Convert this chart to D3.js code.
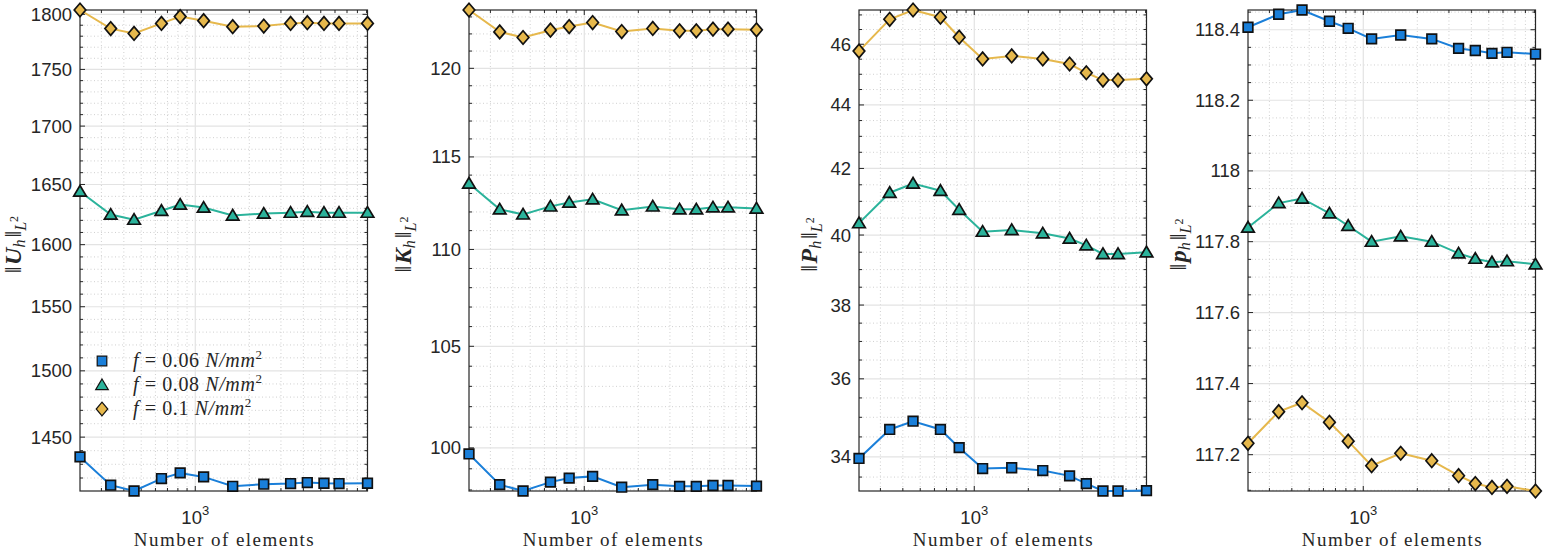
<!DOCTYPE html>
<html>
<head>
<meta charset="utf-8">
<title>Norms versus number of elements</title>
<script src="https://d3js.org/d3.v7.min.js"></script>
<style>
  body { margin: 0; background: #fff; }
  svg text { fill: #262626; }
  .tick-label { font-family: "Liberation Sans", Arial, sans-serif; font-size: 18.5px; }
  .serif { font-family: "Liberation Serif", "DejaVu Serif", serif; }
</style>
</head>
<body>
<svg id="chart" width="1544" height="550"></svg>
<script>
// number of elements of each mesh (same for all four panels)
var elements = [228, 338, 456, 648, 824, 1113, 1616, 2407, 3395, 4207, 5209, 6318, 9104];

// legend entries
var loads = ["0.06", "0.08", "0.1"];

// ||U_h||_L2
var U_f006 = [1435.4, 1414.8, 1410.6, 1419.6, 1423.7, 1420.8, 1414.0, 1415.5, 1416.0, 1416.7, 1416.2, 1416.0, 1416.2];
var U_f008 = [1644.1, 1624.8, 1620.6, 1628.0, 1633.1, 1630.6, 1624.0, 1625.6, 1626.4, 1627.2, 1626.4, 1626.4, 1626.4];
var U_f010 = [1804.0, 1786.9, 1782.5, 1791.7, 1797.9, 1794.2, 1788.7, 1789.2, 1791.7, 1792.3, 1791.7, 1791.7, 1791.7];

// ||K_h||_L2
var K_f006 = [99.71, 98.25, 97.95, 98.37, 98.56, 98.64, 98.13, 98.25, 98.17, 98.17, 98.21, 98.21, 98.18];
var K_f008 = [113.54, 112.14, 111.87, 112.30, 112.51, 112.68, 112.09, 112.30, 112.14, 112.14, 112.25, 112.25, 112.19];
var K_f010 = [123.41, 122.12, 121.79, 122.22, 122.43, 122.67, 122.14, 122.32, 122.18, 122.18, 122.28, 122.28, 122.24];

// ||P_h||_L2
var P_f006 = [33.96, 34.69, 34.90, 34.69, 34.23, 33.71, 33.73, 33.66, 33.53, 33.34, 33.16, 33.16, 33.17];
var P_f008 = [40.35, 41.26, 41.54, 41.32, 40.75, 40.10, 40.15, 40.05, 39.90, 39.70, 39.45, 39.45, 39.50];
var P_f010 = [45.77, 46.85, 47.17, 46.92, 46.24, 45.51, 45.61, 45.51, 45.34, 45.05, 44.81, 44.81, 44.85];

// ||p_h||_L2
var p_f006 = [118.407, 118.444, 118.456, 118.424, 118.404, 118.374, 118.385, 118.374, 118.347, 118.341, 118.333, 118.336, 118.331];
var p_f008 = [117.840, 117.909, 117.922, 117.880, 117.845, 117.800, 117.815, 117.800, 117.767, 117.752, 117.742, 117.745, 117.736];
var p_f010 = [117.232, 117.321, 117.346, 117.291, 117.238, 117.169, 117.204, 117.183, 117.141, 117.119, 117.108, 117.111, 117.098];

// x ticks
var xMajor = [1000];
var xMinor = [200, 300, 400, 500, 600, 700, 800, 900, 2000, 3000, 4000, 5000, 6000, 7000, 8000, 9000];

var colors = ["#1a7fd9", "#2bb39b", "#e6b84c"];
var shapes = ["square", "triangle", "diamond"];

var panels = [
  { sym: "U", series: [U_f006, U_f008, U_f010], major: 50, minor: 10, left: 80, ylabOff: 59 },
  { sym: "K", series: [K_f006, K_f008, K_f010], major: 5, minor: 1, left: 469, ylabOff: 58 },
  { sym: "P", series: [P_f006, P_f008, P_f010], major: 2, minor: 0.5, left: 859, ylabOff: 42 },
  { sym: "p", series: [p_f006, p_f008, p_f010], major: 0.2, minor: 0.05, left: 1248, ylabOff: 62 }
];

var marginTop = 10, w = 287.5, h = 481;
var svg = d3.select("#chart");

function steps(dom, step) {
  var lo = Math.ceil(dom[0] / step - 1e-9), hi = Math.floor(dom[1] / step + 1e-9);
  return d3.range(lo, hi + 1).map(function(k) { return +(k * step).toFixed(6); });
}

function markerPath(type) {
  if (type == "square") return "M-4.8,-4.8H4.8V4.8H-4.8Z";
  if (type == "triangle") return "M0,-6L6.3,4.6H-6.3Z";
  return "M0,-6.8L5.8,0L0,6.8L-5.8,0Z";
}

panels.forEach(function(p, pi) {
  var all = d3.merge(p.series);
  var x = d3.scaleLog().domain(d3.extent(elements)).range([0, w]);
  var y = d3.scaleLog().domain(d3.extent(all)).range([h, 0]);
  var dom = y.domain();
  var yMajor = steps(dom, p.major);
  var yMinor = steps(dom, p.minor).filter(function(v) {
    return yMajor.every(function(m) { return Math.abs(m - v) > 1e-6; });
  });
  var xMin = xMinor.filter(function(v) { return v >= x.domain()[0] && v <= x.domain()[1]; });

  var g = svg.append("g").attr("transform", "translate(" + p.left + "," + marginTop + ")");

  // minor grid
  g.selectAll(".ygm").data(yMinor).enter().append("line")
    .attr("x1", 0).attr("x2", w).attr("y1", y).attr("y2", y)
    .attr("stroke", "#c4c4c4").attr("stroke-width", 0.8).attr("stroke-dasharray", "1,2.5");
  g.selectAll(".xgm").data(xMin).enter().append("line")
    .attr("y1", 0).attr("y2", h).attr("x1", x).attr("x2", x)
    .attr("stroke", "#c4c4c4").attr("stroke-width", 0.8).attr("stroke-dasharray", "1,2.5");

  // major grid
  g.selectAll(".yg").data(yMajor).enter().append("line")
    .attr("x1", 0).attr("x2", w).attr("y1", y).attr("y2", y)
    .attr("stroke", "#e3e3e3").attr("stroke-width", 1.2);
  g.selectAll(".xg").data(xMajor).enter().append("line")
    .attr("y1", 0).attr("y2", h).attr("x1", x).attr("x2", x)
    .attr("stroke", "#e3e3e3").attr("stroke-width", 1.2);

  // ticks, pointing inward on all four sides
  [[yMajor, 5], [yMinor, 3]].forEach(function(t) {
    g.selectAll(null).data(t[0]).enter().append("path")
      .attr("d", function(v) {
        var yy = y(v);
        return "M0," + yy + "h" + t[1] + "M" + w + "," + yy + "h" + (-t[1]);
      })
      .attr("stroke", "#262626").attr("stroke-width", 1);
  });
  [[xMajor, 5], [xMin, 3]].forEach(function(t) {
    g.selectAll(null).data(t[0]).enter().append("path")
      .attr("d", function(v) {
        var xx = x(v);
        return "M" + xx + "," + h + "v" + (-t[1]) + "M" + xx + ",0v" + t[1];
      })
      .attr("stroke", "#262626").attr("stroke-width", 1);
  });

  // axes box
  g.append("rect").attr("width", w).attr("height", h)
    .attr("fill", "none").attr("stroke", "#262626").attr("stroke-width", 1.2);

  // y tick labels
  g.selectAll(".yl").data(yMajor).enter().append("text")
    .attr("class", "tick-label")
    .attr("x", -8).attr("y", function(v) { return y(v) + 6.5; })
    .attr("text-anchor", "end")
    .text(function(v) { return String(+v.toFixed(2)); });

  // x tick label 10^3
  var xt = g.selectAll(".xl").data(xMajor).enter().append("text")
    .attr("class", "tick-label")
    .attr("x", function(v) { return x(v); }).attr("y", h + 33)
    .attr("text-anchor", "middle");
  xt.append("tspan").text("10");
  xt.append("tspan").attr("dy", -9).attr("font-size", 13).text("3");

  // x label
  g.append("text").attr("class", "serif")
    .attr("x", w / 2).attr("y", h + 55)
    .attr("text-anchor", "middle").attr("font-size", 19)
    .attr("textLength", 180).attr("lengthAdjust", "spacing")
    .text("Number of elements");

  // y label  ||X_h||_{L^2}
  var yl = g.append("text").attr("class", "serif")
    .attr("transform", "translate(" + (-p.ylabOff) + "," + (h / 2 - 6) + ") rotate(-90)")
    .attr("text-anchor", "middle").attr("font-size", 24);
  yl.append("tspan").text("\u2016");
  yl.append("tspan").attr("dx", 1.5).attr("font-weight", "bold").attr("font-style", "italic").text(p.sym);
  yl.append("tspan").attr("font-style", "italic").attr("font-size", 16).attr("dy", 4).text("h");
  yl.append("tspan").attr("dx", 2).attr("dy", -4).text("\u2016");
  yl.append("tspan").attr("font-style", "italic").attr("font-size", 16).attr("dy", 5).text("L");
  yl.append("tspan").attr("font-size", 12).attr("dy", -8).text("2");

  // data
  var line = d3.line().x(function(d, i) { return x(elements[i]); }).y(function(d) { return y(d); });
  p.series.forEach(function(s, si) {
    g.append("path").datum(s).attr("d", line)
      .attr("fill", "none").attr("stroke", colors[si]).attr("stroke-width", 2);
  });
  p.series.forEach(function(s, si) {
    g.selectAll(null).data(s).enter().append("path")
      .attr("transform", function(d, i) { return "translate(" + x(elements[i]) + "," + y(d) + ")"; })
      .attr("d", markerPath(shapes[si]))
      .attr("fill", colors[si]).attr("stroke", "#111").attr("stroke-width", 1.7);
  });

  // legend, first panel only
  if (pi == 0) {
    var lg = g.selectAll(".lg").data(loads).enter().append("g")
      .attr("transform", function(d, i) { return "translate(22," + (351 + i * 24) + ")"; });
    lg.append("path")
      .attr("d", function(d, i) { return markerPath(shapes[i]); })
      .attr("fill", function(d, i) { return colors[i]; })
      .attr("stroke", "#111").attr("stroke-width", 1.2);
    var lt = lg.append("text").attr("class", "serif").attr("x", 31).attr("y", 6)
      .attr("font-size", 20).attr("letter-spacing", 0.6);
    lt.append("tspan").attr("font-style", "italic").text("f");
    lt.append("tspan").text(function(d) { return " = " + d + " "; });
    lt.append("tspan").attr("font-style", "italic").text("N/mm");
    lt.append("tspan").attr("font-size", 13).attr("dy", -8).text("2");
  }
});
</script>
</body>
</html>
